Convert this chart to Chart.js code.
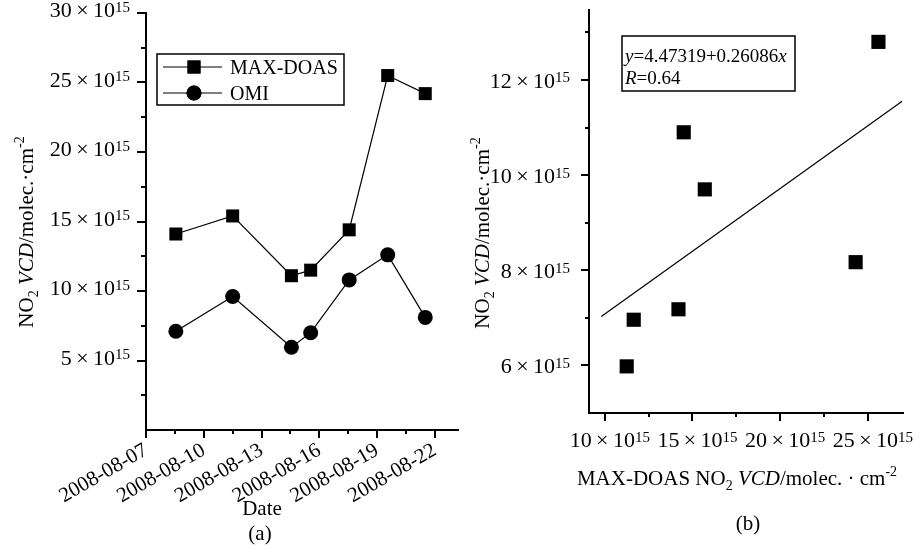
<!DOCTYPE html>
<html>
<head>
<meta charset="utf-8">
<script src="https://cdn.jsdelivr.net/npm/chart.js@4/dist/chart.umd.min.js"></script>
<style>
body { margin: 0; background: #fff; }
#wrap { position: relative; width: 921px; height: 550px; }
#chartA { position: absolute; left: 0; top: 0; }
#chartB { position: absolute; left: 470px; top: 0; }
</style>
</head>
<body>
<div id="wrap">
  <canvas id="chartA" width="470" height="550"></canvas>
  <canvas id="chartB" width="451" height="550"></canvas>
</div>
<script>
// (a) time series, values in 10^15 molec/cm2, x = day of August 2008
const obsDays = [8.55, 11.5, 14.55, 15.55, 17.55, 19.55, 21.5];
const maxDoas = [14.1, 15.4, 11.1, 11.5, 14.4, 25.5, 24.2];
const omi = [7.1, 9.6, 5.95, 7.0, 10.8, 12.6, 8.1];
const dateTicks = [7, 10, 13, 16, 19, 22];
const dateMinor = [8.5, 11.5, 14.5, 17.5, 20.5];
const leftYTicks = [5, 10, 15, 20, 25, 30];
const leftYMinor = [2.5, 7.5, 12.5, 17.5, 22.5, 27.5];

// (b) scatter MAX-DOAS vs OMI
const scatterX = [25.6, 14.5, 15.7, 24.3, 11.65, 14.2, 11.25];
const scatterY = [12.8, 10.9, 9.7, 8.17, 6.96, 7.18, 5.98];
const fitX = [9.8, 26.95];
const fitY = [7.03, 11.55];
const rightXTicks = [10, 15, 20, 25];
const rightXMinor = [12.5, 17.5, 22.5];
const rightYTicks = [6, 8, 10, 12];
const rightYMinor = [7, 9, 11, 13];

const SERIF = "'Liberation Serif', 'Times New Roman', serif";
Chart.defaults.font.family = SERIF;
Chart.defaults.color = '#000';

function partFont(kind, size) {
    const small = kind === 'sub' || kind === 'sup' || kind === 'supHi';
    const s = small ? Math.round(size * 0.68) : size;
    return (kind === 'i' ? 'italic ' : '') + s + 'px ' + SERIF;
}
function partShift(kind, size) {
    if (kind === 'sub') return size * 0.22;
    if (kind === 'sup') return -size * 0.25;
    if (kind === 'supHi') return -size * 0.42;
    return 0;
}
function drawRich(ctx, parts, x, y, size, align) {
    ctx.save();
    ctx.fillStyle = '#000';
    ctx.textBaseline = 'alphabetic';
    ctx.textAlign = 'left';
    let total = 0;
    const widths = parts.map(([t, k]) => {
        ctx.font = partFont(k, size);
        const w = ctx.measureText(t).width;
        total += w;
        return w;
    });
    let cx = align === 'right' ? x - total : align === 'center' ? x - total / 2 : x;
    parts.forEach(([t, k], i) => {
        ctx.font = partFont(k, size);
        ctx.fillText(t, cx, y + partShift(k, size));
        cx += widths[i];
    });
    ctx.restore();
}
function drawRotated(ctx, parts, x, y, size) {
    ctx.save();
    ctx.translate(x, y);
    ctx.rotate(-Math.PI / 2);
    drawRich(ctx, parts, 0, 0, size, 'center');
    ctx.restore();
}
function drawTicks(ctx, scale, values, len, horizontal) {
    ctx.save();
    ctx.strokeStyle = '#000';
    ctx.lineWidth = 2;
    ctx.beginPath();
    values.forEach(v => {
        const p = Math.round(scale.getPixelForValue(v));
        if (horizontal) {
            ctx.moveTo(p, scale.top);
            ctx.lineTo(p, scale.top + len);
        } else {
            ctx.moveTo(scale.right, p);
            ctx.lineTo(scale.right - len, p);
        }
    });
    ctx.stroke();
    ctx.restore();
}
const sciLabel = v => [[v + '\u2009×\u200910', ''], ['15', 'sup']];
const vcdTitle = [['NO', ''], ['2', 'sub'], [' ', ''], ['VCD', 'i'], ['/molec.·cm', ''], ['-2', 'supHi']];

const decorA = {
    id: 'decorA',
    afterDraw(chart) {
        const { ctx } = chart;
        const x = chart.scales.x, y = chart.scales.y;
        drawTicks(ctx, y, leftYTicks, 9, false);
        drawTicks(ctx, y, leftYMinor, 5, false);
        drawTicks(ctx, x, dateTicks, 8, true);
        drawTicks(ctx, x, dateMinor, 4, true);
        leftYTicks.forEach(v => {
            drawRich(ctx, sciLabel(v), y.right - 16, y.getPixelForValue(v) + 4, 22, 'right');
        });
        drawRotated(ctx, vcdTitle, 33, 232, 21);
        drawRich(ctx, [['Date', '']], 262, 515, 21, 'center');
        drawRich(ctx, [['(a)', '']], 260, 540, 21, 'center');

        // legend
        ctx.save();
        ctx.strokeStyle = '#000';
        ctx.lineWidth = 1.5;
        ctx.strokeRect(157, 54, 187, 51);
        chart.data.datasets.forEach((ds, i) => {
            const ly = 67 + i * 26;
            ctx.lineWidth = 1.2;
            ctx.beginPath();
            ctx.moveTo(163, ly);
            ctx.lineTo(222, ly);
            ctx.stroke();
            ctx.fillStyle = '#000';
            Chart.helpers.drawPoint(ctx, { pointStyle: ds.pointStyle, radius: ds.pointRadius, borderWidth: 0 }, 194, ly);
            ctx.fill();
            drawRich(ctx, [[ds.label, '']], 230, ly + 7, 20, 'left');
        });
        ctx.restore();
    }
};

const decorB = {
    id: 'decorB',
    afterDraw(chart) {
        const { ctx } = chart;
        const x = chart.scales.x, y = chart.scales.y;
        drawTicks(ctx, y, rightYTicks, 8, false);
        drawTicks(ctx, y, rightYMinor, 4, false);
        drawTicks(ctx, x, rightXTicks, 8, true);
        drawTicks(ctx, x, rightXMinor, 4, true);
        rightYTicks.forEach(v => {
            drawRich(ctx, sciLabel(v), y.right - 19, y.getPixelForValue(v) + 8, 22, 'right');
        });
        rightXTicks.forEach(v => {
            drawRich(ctx, sciLabel(v), x.getPixelForValue(v) + 5, 447, 22, 'center');
        });
        drawRotated(ctx, vcdTitle, 19, 233, 21);
        drawRich(ctx, [['MAX-DOAS NO', ''], ['2', 'sub'], [' ', ''], ['VCD', 'i'], ['/molec. · cm', ''], ['-2', 'supHi']], 267, 485, 21, 'center');
        drawRich(ctx, [['(b)', '']], 278, 530, 21, 'center');

        // regression box
        ctx.save();
        ctx.strokeStyle = '#000';
        ctx.lineWidth = 1.5;
        ctx.strokeRect(152, 36, 173, 55);
        ctx.restore();
        drawRich(ctx, [['y', 'i'], ['=4.47319+0.26086', ''], ['x', 'i']], 155, 62, 19, 'left');
        drawRich(ctx, [['R', 'i'], ['=0.64', '']], 155, 84, 19, 'left');
    }
};

new Chart(document.getElementById('chartA'), {
    type: 'line',
    data: {
        datasets: [{
            label: 'MAX-DOAS',
            data: obsDays.map((d, i) => ({ x: d, y: maxDoas[i] })),
            borderColor: '#000',
            backgroundColor: '#000',
            borderWidth: 1.2,
            pointStyle: 'rect',
            pointRadius: 9.2,
            pointBorderWidth: 0
        }, {
            label: 'OMI',
            data: obsDays.map((d, i) => ({ x: d, y: omi[i] })),
            borderColor: '#000',
            backgroundColor: '#000',
            borderWidth: 1.2,
            pointStyle: 'circle',
            pointRadius: 7.5,
            pointBorderWidth: 0
        }]
    },
    options: {
        responsive: false,
        animation: false,
        devicePixelRatio: 1,
        layout: { padding: { top: 13, right: 12, left: 0, bottom: 0 } },
        plugins: { legend: { display: false }, tooltip: { enabled: false } },
        scales: {
            x: {
                type: 'linear',
                min: 7,
                max: 23.2,
                grid: { display: false, drawTicks: true, tickLength: 8 },
                border: { display: true, color: '#000', width: 2 },
                afterBuildTicks: s => { s.ticks = dateTicks.map(v => ({ value: v })); },
                afterFit: s => { s.height = 120; },
                ticks: {
                    autoSkip: false,
                    minRotation: 30,
                    maxRotation: 30,
                    padding: 0,
                    font: { size: 21, family: SERIF },
                    color: '#000',
                    callback: v => '2008-08-' + String(v).padStart(2, '0')
                }
            },
            y: {
                min: 0,
                max: 30,
                grid: { display: false },
                border: { display: true, color: '#000', width: 2 },
                ticks: { display: false },
                afterFit: s => { s.width = 146; }
            }
        }
    },
    plugins: [decorA]
});

new Chart(document.getElementById('chartB'), {
    type: 'scatter',
    data: {
        datasets: [{
            label: 'OMI vs MAX-DOAS',
            data: scatterX.map((v, i) => ({ x: v, y: scatterY[i] })),
            backgroundColor: '#000',
            pointStyle: 'rect',
            pointRadius: 10,
            pointBorderWidth: 0
        }, {
            type: 'line',
            label: 'fit',
            data: fitX.map((v, i) => ({ x: v, y: fitY[i] })),
            borderColor: '#000',
            borderWidth: 1.2,
            pointRadius: 0
        }]
    },
    options: {
        responsive: false,
        animation: false,
        devicePixelRatio: 1,
        layout: { padding: { top: 10, right: 18, left: 0, bottom: 0 } },
        plugins: { legend: { display: false }, tooltip: { enabled: false } },
        scales: {
            x: {
                type: 'linear',
                min: 9.1,
                max: 27,
                grid: { display: false },
                border: { display: true, color: '#000', width: 2 },
                ticks: { display: false },
                afterFit: s => { s.height = 137; }
            },
            y: {
                min: 5,
                max: 13.47,
                grid: { display: false },
                border: { display: true, color: '#000', width: 2 },
                ticks: { display: false },
                afterFit: s => { s.width = 119; }
            }
        }
    },
    plugins: [decorB]
});
</script>
</body>
</html>
